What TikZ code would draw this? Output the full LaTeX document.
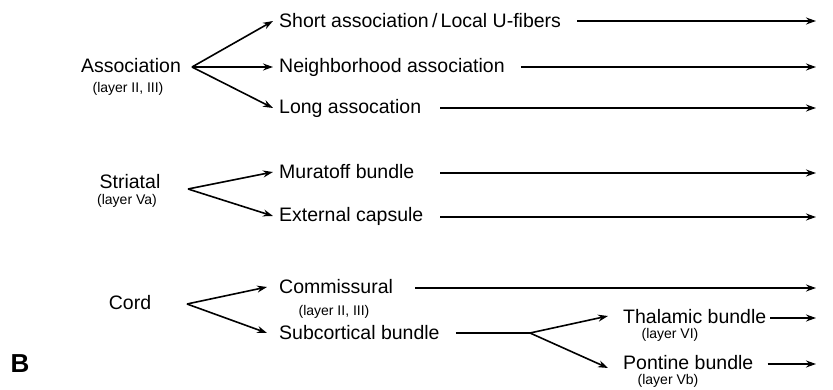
\documentclass[tikz,border=0pt]{standalone}
\usepackage{fontspec}
\setmainfont{Liberation Sans}
\usetikzlibrary{arrows.meta}
\begin{document}
\begin{tikzpicture}[x=1pt,y=-1pt,
  lbl/.style={inner sep=0pt,anchor=west,font=\fontsize{19.5}{21}\selectfont},
  grp/.style={inner sep=0pt,font=\fontsize{19.5}{21}\selectfont},
  sub/.style={inner sep=0pt,font=\fontsize{14}{16}\selectfont},
  conn/.style={line width=1.6pt,-{Stealth[length=10pt,width=7pt]}},
  gapl/.style={shorten <=16pt}]
\useasboundingbox (0,0) rectangle (833,390);

% group labels on the left
\node[grp] (assoc) at (131,66) {Association};
\node[sub] (assocl) at (128,89) {(layer II, III)};
\node[grp] (stri) at (130,182) {Striatal};
\node[sub] (stril) at (127,201) {(layer Va)};
\node[grp] (cord) at (130,303) {Cord};
\node[font=\bfseries\fontsize{26}{28}\selectfont,inner sep=0pt] (B) at (20,364) {B};

% fork points
\coordinate (fa) at (192,67);
\coordinate (fs) at (188,189);
\coordinate (fc) at (187,304);

% target labels
\node[lbl] (short) at (279,21) {Short association\,/\,Local U-fibers};
\node[lbl] (neigh) at (279,67) {Neighborhood association};
\node[lbl] (long) at (279,108) {Long assocation};
\node[lbl] (mura) at (279,172) {Muratoff bundle};
\node[lbl] (ext) at (279,216) {External capsule};
\node[lbl] (comm) at (279,287) {Commissural};
\node[sub] (comml) at (334,312) {(layer II, III)};
\node[lbl] (subc) at (279,333) {Subcortical bundle};
\node[lbl] (thal) at (623,317) {Thalamic bundle};
\node[sub] (thall) at (670,335) {(layer VI)};
\node[lbl] (pont) at (623,363) {Pontine bundle};
\node[sub] (pontl) at (668,381) {(layer Vb)};

% right-hand ends of the output arrows
\coordinate (eshort) at (816,21);
\coordinate (eneigh) at (816,67);
\coordinate (elong) at (816,108);
\coordinate (emura) at (816,173);
\coordinate (eext) at (816,217);
\coordinate (ecomm) at (816,288);
\coordinate (ethal) at (816,318);
\coordinate (epont) at (816,364);
\coordinate (fsub) at (530,333);

% fan-out arrows
\draw[conn] (fa) -- ([xshift=-6pt]short.west);
\draw[conn] (fa) -- ([xshift=-6pt]neigh.west);
\draw[conn] (fa) -- ([xshift=-6pt]long.west);
\draw[conn] (fs) -- ([xshift=-6pt]mura.west);
\draw[conn] (fs) -- ([xshift=-6pt]ext.west);
\draw[conn] (fc) -- ([xshift=-12pt]comm.west);
\draw[conn] (fc) -- ([xshift=-12pt]subc.west);

% long output arrows
\draw[conn,gapl] (short.east) -- (eshort);
\draw[conn,gapl] (neigh.east) -- (eneigh);
\draw[conn] (440,108) -- (elong);
\draw[conn] (440,173) -- (emura);
\draw[conn] (440,217) -- (eext);
\draw[conn] (415,288) -- (ecomm);

% subcortical split
\draw[line width=1.6pt,shorten <=16pt] (subc.east) -- (fsub);
\draw[conn] (fsub) -- ([xshift=-15pt,yshift=1pt]thal.west);
\draw[conn] (fsub) -- ([xshift=-15pt,yshift=-5pt]pont.west);
\draw[conn,shorten <=4pt] (thal.east |- ethal) -- (ethal);
\draw[conn,shorten <=14pt] (pont.east |- epont) -- (epont);
\end{tikzpicture}
\end{document}
